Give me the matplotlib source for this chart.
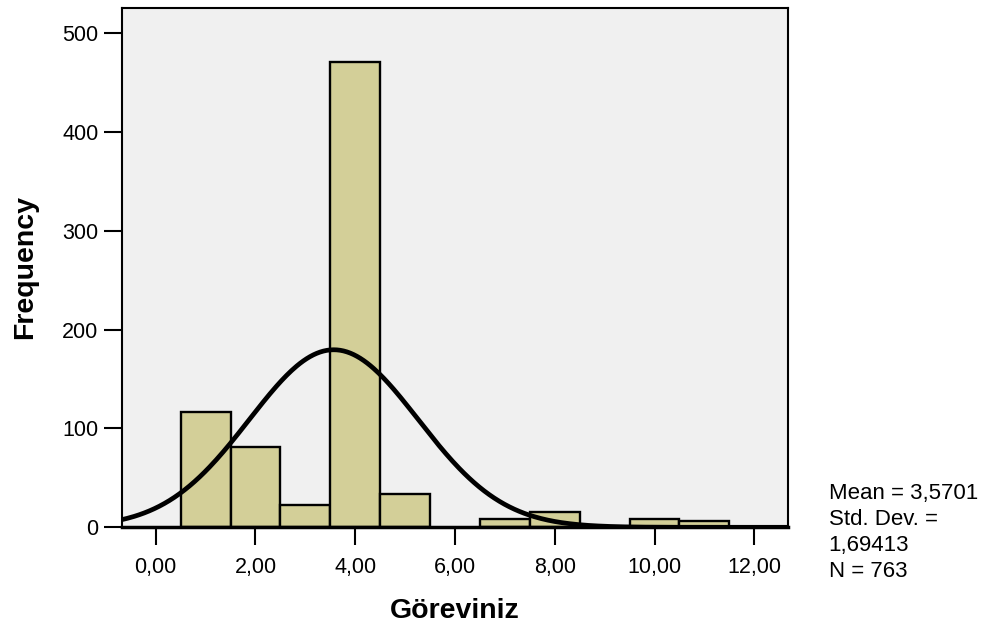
import numpy as np
import matplotlib
matplotlib.use("Agg")
import matplotlib.pyplot as plt

plt.rcParams['font.family'] = ['Liberation Sans', 'DejaVu Sans']

# histogram data (bin centres, width 1)
bin_centers = [1, 2, 3, 4, 5, 7, 8, 10, 11]
counts = [117, 81, 23, 471, 34, 8, 15, 8, 6]
x_ticks = [0, 2, 4, 6, 8, 10, 12]
y_ticks = [0, 100, 200, 300, 400, 500]
mean_val = 3.5701
std_val = 1.69413
n_val = 763

fig = plt.figure(figsize=(9.84, 6.27), dpi=100)
ax = fig.add_axes([0.124, 0.159, 0.677, 0.829])
ax.set_facecolor('#f0f0f0')

ax.bar(bin_centers, counts, width=1.0, color='#d3cf98', edgecolor='black',
       linewidth=1.7, zorder=2)

# normal curve scaled to counts
xs = np.linspace(-0.7, 12.7, 400)
ys = n_val * 1.0 / (std_val * np.sqrt(2 * np.pi)) * np.exp(-0.5 * ((xs - mean_val) / std_val) ** 2)
ax.plot(xs, ys, color='black', linewidth=3.4, zorder=3)

ax.set_xlim(-0.675, 12.68)
ax.set_ylim(0, 526)
ax.set_xticks(x_ticks)
ax.set_xticklabels([f"{t:.2f}".replace('.', ',') for t in x_ticks])
ax.set_yticks(y_ticks)
ax.tick_params(axis='both', direction='out', length=13, width=1.5,
               labelsize=15.5, colors='black')
ax.tick_params(axis='x', pad=8.5)
ax.tick_params(axis='y', pad=4)

for side in ['left', 'top', 'right']:
    ax.spines[side].set_linewidth(1.5)
ax.spines['bottom'].set_linewidth(2.5)

ax.set_xlabel('Göreviniz', fontsize=20.5, fontweight='bold', labelpad=14)
ax.set_ylabel('Frequency', fontsize=20.5, fontweight='bold', labelpad=17)

stats = f"Mean = {mean_val:.4f}\nStd. Dev. =\n{std_val:.5f}\nN = {n_val}".replace('.', ',')
stats = stats.replace('Std, Dev,', 'Std. Dev.')
fig.text(0.842, 0.151, stats, fontsize=16, va='center', ha='left',
         linespacing=1.3)

fig.savefig('out.png', dpi=100)
